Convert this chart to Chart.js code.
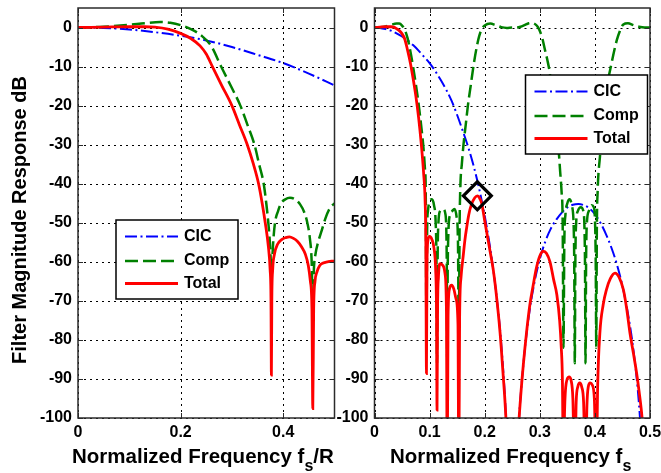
<!DOCTYPE html>
<html>
<head>
<meta charset="utf-8">
<script src="https://cdn.jsdelivr.net/npm/chart.js@4/dist/chart.umd.min.js"></script>
<style>
html,body{margin:0;padding:0;background:#fff;}
#wrap{position:relative;width:661px;height:473px;overflow:hidden;background:#fff;}
canvas{position:absolute;left:0;top:0;}
</style>
</head>
<body>
<div id="wrap">
<canvas id="c1" width="661" height="473"></canvas>
<canvas id="c2" width="661" height="473"></canvas>
</div>
<script>
// ---------------- data ----------------
const legendLabels = ['CIC', 'Comp', 'Total'];
const yTitle = 'Filter Magnitude Response dB';
const leftXTitle = [['Normalized Frequency f', false], ['s', true], ['/R', false]];
const rightXTitle = [['Normalized Frequency f', false], ['s', true]];

const yTickValues = [0, -10, -20, -30, -40, -50, -60, -70, -80, -90, -100];
const yTickLabels = ['0', '-10', '-20', '-30', '-40', '-50', '-60', '-70', '-80', '-90', '-100'];
const leftXTickValues = [0, 0.2, 0.4];
const leftXTickLabels = ['0', '0.2', '0.4'];
const rightXTickValues = [0, 0.1, 0.2, 0.3, 0.4, 0.5];
const rightXTickLabels = ['0', '0.1', '0.2', '0.3', '0.4', '0.5'];

// Left panel (frequency in fs/R)
const leftCicX = [0, 0.05, 0.1, 0.15, 0.2, 0.25, 0.3, 0.35, 0.4, 0.45, 0.5];
const leftCicY = [0, -0.1, -0.5, -1.2, -2.1, -3.3, -5.0, -7.0, -9.1, -11.8, -14.8];

const leftCompX = [0, 0.05, 0.1, 0.13, 0.16, 0.18, 0.2, 0.22, 0.24, 0.26,
  0.279, 0.3, 0.3165, 0.33, 0.344, 0.353, 0.362, 0.367, 0.371, 0.374,
  0.3758, 0.377, 0.3785, 0.3805, 0.384, 0.39, 0.396, 0.404, 0.413, 0.423,
  0.433, 0.441, 0.447, 0.452, 0.4555, 0.4577, 0.4598, 0.463, 0.468, 0.475,
  0.482, 0.49, 0.5];
const leftCompY = [0, 0.2, 0.7, 1.1, 1.4, 1.2, 0.6, -0.4, -2.0, -4.8,
  -10, -15.5, -20, -24.8, -30, -35, -40, -45, -50, -55,
  -60, -65, -60, -55, -50, -47, -45, -44, -43.6, -44,
  -45.3, -47.3, -50, -54, -60, -72, -62, -58, -55, -52,
  -49, -46.5, -45];

const leftTotX = [0, 0.05, 0.1, 0.13, 0.15, 0.175, 0.2, 0.22, 0.238, 0.25,
  0.262, 0.28, 0.3, 0.315, 0.33, 0.342, 0.352, 0.359, 0.365, 0.371,
  0.3745, 0.3762, 0.377, 0.3778, 0.3795, 0.383, 0.389, 0.397, 0.405, 0.412,
  0.42, 0.428, 0.436, 0.443, 0.449, 0.453, 0.456, 0.4577, 0.4594, 0.462,
  0.466, 0.471, 0.478, 0.486, 0.494, 0.5];
const leftTotY = [0, 0.1, 0.2, 0.2, 0.1, -0.4, -1.5, -2.8, -4.7, -6.8,
  -10, -14.8, -20, -25, -30, -35, -40, -45, -50, -56,
  -62, -70, -89, -70, -62, -58, -55.5, -54.3, -53.8, -53.6,
  -54, -54.8, -56.2, -58, -61, -65, -72, -97.6, -72, -65,
  -62.5, -61, -60.3, -60, -59.8, -59.8];

// Right panel (frequency in fs)
const rightCicX = [0, 0.01, 0.02, 0.03, 0.04, 0.05, 0.06, 0.07, 0.08, 0.09,
  0.1, 0.11, 0.12, 0.13, 0.14, 0.15, 0.16, 0.17, 0.18, 0.19,
  0.2, 0.21, 0.22, 0.23, 0.24, 0.245, 0.25, 0.255, 0.26, 0.27,
  0.28, 0.29, 0.3, 0.31, 0.32, 0.33, 0.34, 0.35, 0.36, 0.37,
  0.38, 0.39, 0.4, 0.41, 0.42, 0.43, 0.44, 0.45, 0.46, 0.47,
  0.48, 0.49, 0.495, 0.5];
const rightCicY = [0, -0.1, -0.4, -0.8, -1.5, -2.3, -3.3, -4.5, -5.9, -7.5,
  -9.1, -11.1, -13.4, -15.9, -18.8, -22.4, -26.4, -30.6, -35.5, -41.3,
  -48.2, -56.5, -67, -81, -104, -125, -150, -125, -106, -86.5,
  -74, -65.5, -59.3, -54.8, -51.5, -49.2, -47.4, -46.1, -45.4, -45.2,
  -45.5, -46.3, -47.8, -50, -52.9, -56.4, -60.7, -66.2, -73.3, -82.7,
  -96.4, -120, -135, -150];

const rightCompX = [0, 0.01, 0.02, 0.03, 0.04, 0.045, 0.05, 0.055, 0.06, 0.065,
  0.07, 0.075, 0.08, 0.085, 0.089, 0.0915, 0.093, 0.0943, 0.0955, 0.097,
  0.1, 0.104, 0.108, 0.111, 0.1125, 0.1135, 0.1145, 0.116, 0.119, 0.1245,
  0.129, 0.1305, 0.1313, 0.132, 0.1328, 0.134, 0.137, 0.141, 0.145, 0.149,
  0.1515, 0.153, 0.1545, 0.156, 0.1585, 0.1615, 0.1655, 0.1695, 0.1745, 0.18,
  0.1855, 0.19, 0.195, 0.2, 0.21, 0.22, 0.23, 0.24, 0.25, 0.258,
  0.265, 0.272, 0.28, 0.286, 0.292, 0.297, 0.301, 0.305, 0.309, 0.314,
  0.318, 0.322, 0.326, 0.33, 0.334, 0.337, 0.3395, 0.3415, 0.343, 0.3445,
  0.3465, 0.35, 0.354, 0.358, 0.3615, 0.3625, 0.3635, 0.3645, 0.366, 0.369,
  0.3745, 0.379, 0.381, 0.382, 0.383, 0.384, 0.3855, 0.389, 0.394, 0.398,
  0.4005, 0.4015, 0.4025, 0.4035, 0.405, 0.409, 0.415, 0.421, 0.43, 0.4396,
  0.445, 0.4516, 0.46, 0.47, 0.48, 0.49, 0.5];
const rightCompY = [0, 0.1, 0.3, 0.7, 1.0, 1.0, 0.5, -0.6, -2.7, -6,
  -10, -14.5, -19.5, -25.5, -31, -36, -42, -80, -52, -47,
  -44.5, -44, -45.5, -50, -60, -86, -60, -50, -47, -46.5,
  -48, -53, -63, -86, -63, -53, -48, -47, -46.5, -48.5,
  -55, -80, -50, -40, -35, -30, -25, -20, -15, -9.5,
  -5, -2.2, -0.3, 0.5, 1.0, 0.6, 0.1, -0.1, 0, 0,
  0.2, 0.6, 1.1, 1.2, 0.8, 0, -1.2, -3, -5.5, -8.5,
  -11.5, -16, -20.5, -26, -31, -37, -42, -50, -82, -55,
  -48, -45, -44, -45.5, -51, -60, -86, -60, -50, -47,
  -46, -47, -51, -60, -86, -60, -50, -47, -45.5, -46,
  -51, -60, -82, -52, -42, -33.3, -24.7, -16.1, -9.3, -3.3,
  -1, 0.8, 1.1, 0.6, 0.2, 0, 0];

const rightTotX = [0, 0.01, 0.02, 0.03, 0.035, 0.04, 0.045, 0.05, 0.055, 0.06,
  0.065, 0.07, 0.075, 0.08, 0.085, 0.089, 0.092, 0.0932, 0.0943, 0.0953,
  0.097, 0.1, 0.104, 0.108, 0.111, 0.1125, 0.1135, 0.1145, 0.116, 0.119,
  0.1245, 0.128, 0.1305, 0.132, 0.1335, 0.136, 0.14, 0.144, 0.148, 0.1515,
  0.153, 0.1545, 0.157, 0.161, 0.164, 0.167, 0.171, 0.176, 0.182, 0.1866,
  0.19, 0.1945, 0.2, 0.205, 0.21, 0.2155, 0.22, 0.2278, 0.233, 0.2385,
  0.245, 0.25, 0.255, 0.26, 0.265, 0.27, 0.276, 0.282, 0.288, 0.294,
  0.3, 0.306, 0.312, 0.3185, 0.325, 0.331, 0.336, 0.339, 0.341, 0.343,
  0.345, 0.348, 0.353, 0.357, 0.36, 0.3635, 0.366, 0.369, 0.3725, 0.376,
  0.3795, 0.383, 0.3855, 0.388, 0.3915, 0.395, 0.399, 0.4025, 0.405, 0.409,
  0.415, 0.421, 0.428, 0.4365, 0.444, 0.4516, 0.4577, 0.4637, 0.47, 0.4758,
  0.48, 0.485, 0.49, 0.495, 0.5];
const rightTotY = [0, 0.1, 0.2, 0.2, 0.1, -0.3, -0.8, -1.6, -3, -5.8,
  -9, -13, -17.5, -23, -30, -37, -45, -55, -88.6, -60,
  -54.5, -53.5, -54.2, -56.5, -62, -72, -98, -72, -64, -60.5,
  -61, -63, -72, -115, -74, -67, -66, -67, -69.5, -76,
  -115, -74, -64, -58.5, -54.5, -51.5, -48, -45.3, -43.6, -43.1,
  -43.5, -45, -49.5, -53.5, -57.5, -62, -67, -78, -88, -100,
  -125, -150, -125, -106, -95, -86.5, -78, -71, -66, -61.5,
  -58.5, -57.3, -57.8, -60, -64.5, -68.5, -75, -82, -90, -115,
  -98, -91, -89.5, -90.5, -95, -115, -96, -92, -91, -92,
  -96, -115, -97, -92, -91, -91.5, -95, -115, -92, -78.3,
  -71, -67.1, -64.3, -62.9, -64, -67.1, -72, -78.3, -83.5, -88.6,
  -93, -99, -108, -125, -150];

const markerX = [0.1866];
const markerY = [-43.1];

// ---------------- styles ----------------
const FONT = '"Liberation Sans", Arial, Helvetica, sans-serif';
Chart.defaults.font.family = FONT;
const COL = { cic: '#0000ff', comp: '#008000', tot: '#ff0000' };
const STYLE = [
  { color: COL.cic, width: 2, dash: [12, 3.5, 2, 3.5] },
  { color: COL.comp, width: 2.5, dash: [13, 5] },
  { color: COL.tot, width: 2.8, dash: [] }
];

function pts(xs, ys) { return xs.map((x, i) => ({ x: x, y: ys[i] })); }

function lineDs(label, xs, ys, st, order) {
  return {
    label: label, data: pts(xs, ys),
    borderColor: st.color, backgroundColor: st.color,
    borderWidth: st.width, borderDash: st.dash,
    pointRadius: 0, pointHoverRadius: 0, fill: false,
    cubicInterpolationMode: 'monotone', clip: 0, order: order
  };
}

function drawLegend(ctx, bx, by) {
  const w = 122, h = 79, rows = [16.5, 41, 63.5];
  ctx.save();
  ctx.setLineDash([]);
  ctx.fillStyle = '#fff';
  ctx.fillRect(bx, by, w, h);
  ctx.strokeStyle = '#000';
  ctx.lineWidth = 1.5;
  ctx.strokeRect(bx, by, w, h);
  legendLabels.forEach((lab, i) => {
    const st = STYLE[i];
    const yy = by + rows[i];
    ctx.strokeStyle = st.color;
    ctx.lineWidth = st.width;
    ctx.setLineDash(st.dash);
    ctx.beginPath();
    ctx.moveTo(bx + 9, yy);
    ctx.lineTo(bx + 62, yy);
    ctx.stroke();
    ctx.setLineDash([]);
    ctx.fillStyle = '#000';
    ctx.font = 'bold 16px ' + FONT;
    ctx.textAlign = 'left';
    ctx.textBaseline = 'middle';
    ctx.fillText(lab, bx + 68, yy);
  });
  ctx.restore();
}

function drawXTitle(ctx, parts, startX, baseY) {
  ctx.save();
  ctx.fillStyle = '#000';
  ctx.textAlign = 'left';
  ctx.textBaseline = 'alphabetic';
  let x = startX;
  parts.forEach(p => {
    ctx.font = (p[1] ? 'bold 16px ' : 'bold 20.5px ') + FONT;
    ctx.fillText(p[0], x, baseY + (p[1] ? 8 : 0));
    x += ctx.measureText(p[0]).width;
  });
  ctx.restore();
}

function framePlugin(cfg) {
  return {
    id: 'frame' + cfg.id,
    beforeDatasetsDraw(chart) {
      const { ctx, chartArea: a } = chart;
      const xs = chart.scales.x, ys = chart.scales.y;
      ctx.save();
      ctx.strokeStyle = '#000';
      ctx.lineWidth = 1;
      ctx.setLineDash([2, 4]);
      xs.ticks.forEach(t => {
        const px = Math.round(xs.getPixelForValue(t.value)) + 0.5;
        ctx.beginPath(); ctx.moveTo(px, a.bottom); ctx.lineTo(px, a.top); ctx.stroke();
      });
      ys.ticks.forEach(t => {
        const py = Math.round(ys.getPixelForValue(t.value)) + 0.5;
        ctx.beginPath(); ctx.moveTo(a.left, py); ctx.lineTo(a.right, py); ctx.stroke();
      });
      ctx.restore();
    },
    afterDatasetsDraw(chart) {
      const { ctx, chartArea: a } = chart;
      const xs = chart.scales.x, ys = chart.scales.y;
      ctx.save();
      ctx.setLineDash([]);
      ctx.strokeStyle = '#2b2b2b';
      ctx.lineWidth = 1;
      const tl = 5;
      xs.ticks.forEach(t => {
        const px = Math.round(xs.getPixelForValue(t.value)) + 0.5;
        ctx.beginPath();
        ctx.moveTo(px, a.bottom); ctx.lineTo(px, a.bottom - tl);
        ctx.moveTo(px, a.top); ctx.lineTo(px, a.top + tl);
        ctx.stroke();
      });
      ys.ticks.forEach(t => {
        const py = Math.round(ys.getPixelForValue(t.value)) + 0.5;
        ctx.beginPath();
        ctx.moveTo(a.left, py); ctx.lineTo(a.left + tl, py);
        ctx.moveTo(a.right, py); ctx.lineTo(a.right - tl, py);
        ctx.stroke();
      });
      ctx.lineWidth = 1.5;
      ctx.strokeRect(a.left, a.top, a.right - a.left, a.bottom - a.top);
      ctx.restore();
      drawLegend(ctx, cfg.legendX, cfg.legendY);
    },
    afterDraw(chart) {
      const ctx = chart.ctx;
      drawXTitle(ctx, cfg.xTitle, cfg.xTitleX, 463);
      if (cfg.yTitle) {
        ctx.save();
        ctx.translate(26, 220);
        ctx.rotate(-Math.PI / 2);
        ctx.fillStyle = '#000';
        ctx.font = 'bold 20px ' + FONT;
        ctx.textAlign = 'center';
        ctx.textBaseline = 'alphabetic';
        ctx.fillText(cfg.yTitle, 0, 0);
        ctx.restore();
      }
    }
  };
}

function makeChart(canvasId, cfg) {
  const tickFont = { size: 16, weight: 'bold', family: FONT };
  const datasets = [
    lineDs(legendLabels[2], cfg.tot[0], cfg.tot[1], STYLE[2], 1),
    lineDs(legendLabels[1], cfg.comp[0], cfg.comp[1], STYLE[1], 2),
    lineDs(legendLabels[0], cfg.cic[0], cfg.cic[1], STYLE[0], 3)
  ];
  if (cfg.marker) {
    datasets.push({
      label: 'marker', data: pts(cfg.marker[0], cfg.marker[1]),
      showLine: false, pointStyle: 'rectRot', pointRadius: 14, pointHoverRadius: 14,
      pointBorderWidth: 3.2, pointBorderColor: '#000', pointBackgroundColor: 'rgba(0,0,0,0)',
      borderColor: '#000', clip: false, order: 0
    });
  }
  return new Chart(document.getElementById(canvasId), {
    type: 'line',
    data: { datasets: datasets },
    options: {
      responsive: false, animation: false, devicePixelRatio: 1,
      events: [],
      layout: { autoPadding: false, padding: { left: cfg.padLeft, right: cfg.padRight, top: 8, bottom: 0 } },
      plugins: { legend: { display: false }, tooltip: { enabled: false }, title: { display: false } },
      scales: {
        x: {
          type: 'linear', min: 0, max: 0.5,
          afterBuildTicks: s => { s.ticks = cfg.xTicks.map(v => ({ value: v })); },
          afterFit: s => { s.height = 55; s.paddingLeft = 0; s.paddingRight = 0; },
          ticks: {
            autoSkip: false, maxRotation: 0, minRotation: 0, padding: 5,
            color: '#000', font: tickFont,
            callback: (v, i) => cfg.xLabels[i]
          },
          grid: { display: false, drawTicks: false }, border: { display: false }
        },
        y: {
          type: 'linear', min: -100, max: 5,
          afterBuildTicks: s => { s.ticks = yTickValues.map(v => ({ value: v })); },
          afterFit: s => { s.width = cfg.yWidth; s.paddingTop = 0; s.paddingBottom = 0; },
          ticks: {
            autoSkip: false, padding: 6, color: '#000', font: tickFont,
            callback: (v, i) => yTickLabels[i]
          },
          grid: { display: false, drawTicks: false }, border: { display: false }
        }
      }
    },
    plugins: [framePlugin(cfg)]
  });
}

makeChart('c1', {
  id: 1, padLeft: 0, padRight: 661 - 334.5, yWidth: 78,
  xTicks: leftXTickValues, xLabels: leftXTickLabels,
  cic: [leftCicX, leftCicY], comp: [leftCompX, leftCompY], tot: [leftTotX, leftTotY],
  legendX: 116, legendY: 220,
  xTitle: leftXTitle, xTitleX: 72, yTitle: yTitle
});

makeChart('c2', {
  id: 2, padLeft: 290, padRight: 11, yWidth: 374.5 - 290,
  xTicks: rightXTickValues, xLabels: rightXTickLabels,
  cic: [rightCicX, rightCicY], comp: [rightCompX, rightCompY], tot: [rightTotX, rightTotY],
  marker: [markerX, markerY],
  legendX: 525.5, legendY: 75,
  xTitle: rightXTitle, xTitleX: 390, yTitle: null
});
</script>
</body>
</html>
